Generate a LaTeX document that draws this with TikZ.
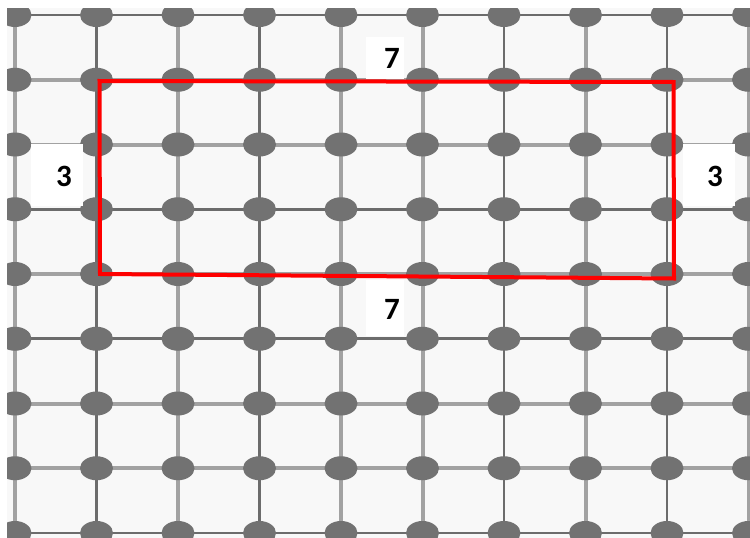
\documentclass[tikz,border=0pt]{standalone}
\usepackage{fontspec}
\setmainfont{Carlito}
\usetikzlibrary{shapes.geometric}
\definecolor{bgc}{HTML}{F8F8F8}
\definecolor{darkl}{HTML}{6C6C6C}
\definecolor{lightl}{HTML}{A2A2A2}
\definecolor{dotc}{HTML}{727272}
\tikzset{
  dot/.style={ellipse,fill=dotc,draw=none,minimum width=33pt,minimum height=24pt,inner sep=0pt},
  dline/.style={draw=darkl,line width=2.8pt},
  lline/.style={draw=lightl,line width=4pt},
  lab/.style={fill=white,font=\fontsize{31}{31}\selectfont\bfseries,text=black,inner sep=0pt},
  redbox/.style={draw=red,line width=4pt,line join=miter}
}
\begin{document}
\begin{tikzpicture}[x=1pt,y=-1pt]
\useasboundingbox (0,0) rectangle (750,538);
\fill[white] (0,0) rectangle (750,538);
\fill[bgc] (7,8) rectangle (750,538);
\begin{scope}
\clip (7,8) rectangle (750,538);
% node coordinates
\foreach \i in {0,...,9}{
  \foreach \j in {0,...,8}{
    \coordinate (c-\i-\j) at ({15+81.5*\i},{15+64.75*\j});
  }
}
% vertical lines
\foreach \i/\s in {0/lline,1/dline,2/lline,3/dline,4/lline,5/lline,6/dline,7/lline,8/dline,9/lline}{
  \draw[\s] ([yshift=20pt]c-\i-0) -- ([yshift=-20pt]c-\i-8);
}
% horizontal lines
\foreach \j/\s in {0/dline,1/lline,2/lline,3/dline,4/lline,5/dline,6/lline,7/lline,8/dline}{
  \draw[\s] ([xshift=-20pt]c-0-\j) -- ([xshift=20pt]c-9-\j);
}
% dots
\foreach \i in {0,...,9}{
  \foreach \j in {0,...,8}{
    \node[dot] (n-\i-\j) at (c-\i-\j) {};
  }
}
\end{scope}
% red rectangle
\coordinate (r1) at (99.5,81);
\coordinate (r2) at (673.5,82);
\coordinate (r3) at (674,278.5);
\coordinate (r4) at (100,274);
% labels
\node[lab,minimum width=38pt,minimum height=42pt] (top7) at (384.5,58) {};
\node[lab,fill=none] (top7t) at (392,58) {7};
\node[lab,minimum width=38pt,minimum height=56pt] (bot7) at (384.5,308) {};
\node[lab,fill=none] (bot7t) at (392,309) {7};
\node[lab,minimum width=52pt,minimum height=62pt] (l3) at (56.5,175) {};
\node[lab,fill=none] (l3t) at (64,176) {3};
\node[lab,minimum width=52pt,minimum height=62pt] (r3l) at (709,175) {};
\node[lab,fill=none] (r3t) at (715,176) {3};
\draw[redbox] (r1) -- (r2) -- (r3) -- (r4) -- cycle;
\end{tikzpicture}
\end{document}
